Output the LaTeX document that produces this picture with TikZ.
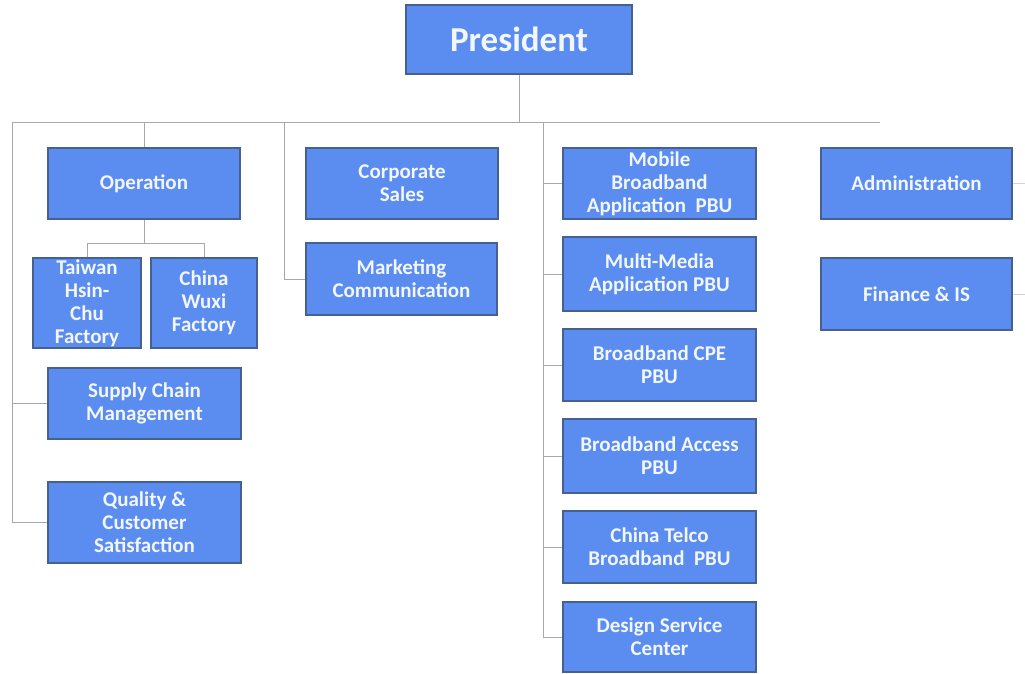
\documentclass[tikz,border=0pt]{standalone}
\usepackage{fontspec}
\setmainfont{Carlito}
\definecolor{boxfill}{HTML}{5B8CF0}
\definecolor{boxline}{HTML}{46618F}
\definecolor{conncol}{HTML}{A8A8A8}
\definecolor{txtcol}{HTML}{F2F6FF}
\tikzset{
  orgbox/.style={draw=boxline, fill=boxfill, line width=1.2pt, text=txtcol,
    font=\bfseries\fontsize{21}{23}\selectfont, align=center, inner sep=0pt},
  conn/.style={draw=conncol, line width=0.9pt},
  faint/.style={draw=conncol!50, line width=0.8pt}
}
\begin{document}
\begin{tikzpicture}[x=1pt,y=-1pt]
\useasboundingbox (0,0) rectangle (1025,673);
% nodes
\node[orgbox, minimum width=226pt, minimum height=69pt, font=\bfseries\fontsize{35}{38}\selectfont] (pres) at (519,39.5) {President};
\node[orgbox, minimum width=192pt, minimum height=71pt] (op) at (144,183.5) {Operation};
\node[orgbox, minimum width=108pt, minimum height=90pt] (taiwan) at (87,303) {Taiwan\\Hsin-\\Chu\\Factory};
\node[orgbox, minimum width=106pt, minimum height=90pt] (wuxi) at (204,303) {China\\Wuxi\\Factory};
\node[orgbox, minimum width=193pt, minimum height=71pt] (supply) at (144.5,403.5) {Supply Chain\\Management};
\node[orgbox, minimum width=193pt, minimum height=81pt] (quality) at (144.5,522.5) {Quality \&\\Customer\\Satisfaction};
\node[orgbox, minimum width=192pt, minimum height=71pt] (corp) at (402,183.5) {Corporate\\Sales};
\node[orgbox, minimum width=191pt, minimum height=72pt] (mkt) at (401.5,279) {Marketing\\Communication};
\node[orgbox, minimum width=193pt, minimum height=71pt] (mobile) at (659.5,183.5) {Mobile\\Broadband\\Application\ \ PBU};
\node[orgbox, minimum width=193pt, minimum height=74pt] (multi) at (659.5,274) {Multi-Media\\Application PBU};
\node[orgbox, minimum width=193pt, minimum height=72pt] (cpe) at (659.5,365) {Broadband CPE\\PBU};
\node[orgbox, minimum width=193pt, minimum height=74pt] (access) at (659.5,456) {Broadband Access\\PBU};
\node[orgbox, minimum width=193pt, minimum height=72pt] (telco) at (659.5,547) {China Telco\\Broadband\ \ PBU};
\node[orgbox, minimum width=193pt, minimum height=70pt] (design) at (659.5,637) {Design Service\\Center};
\node[orgbox, minimum width=191pt, minimum height=71pt] (admin) at (916.5,183.5) {Administration};
\node[orgbox, minimum width=191pt, minimum height=72pt] (fin) at (916.5,294) {Finance \& IS};
% bus coordinates
\coordinate (top) at (519,122);
\coordinate (hl) at (12,122);
\coordinate (hr) at (880,122);
\coordinate (c2) at (284,122);
\coordinate (c3) at (543,122);
\coordinate (fbar) at (144,243);
\coordinate (adminend) at (1025,183.5);
\coordinate (finend) at (1025,294);
% connectors
\draw[conn] (pres.south) -- (top);
\draw[conn] (hl) -- (hr);
\draw[conn] (hl) |- (supply.west);
\draw[conn] (hl) |- (quality.west);
\draw[conn] (op.north |- hl) -- (op.north);
\draw[conn] (op.south) -- (fbar);
\draw[conn] (fbar) -| (taiwan.north);
\draw[conn] (fbar) -| (wuxi.north);
\draw[conn] (c2) |- (mkt.west);
\draw[conn] (c3) |- (mobile.west);
\draw[conn] (c3) |- (multi.west);
\draw[conn] (c3) |- (cpe.west);
\draw[conn] (c3) |- (access.west);
\draw[conn] (c3) |- (telco.west);
\draw[conn] (c3) |- (design.west);
\draw[faint] (admin.east) -- (adminend);
\draw[faint] (fin.east) -- (finend);
\end{tikzpicture}
\end{document}
